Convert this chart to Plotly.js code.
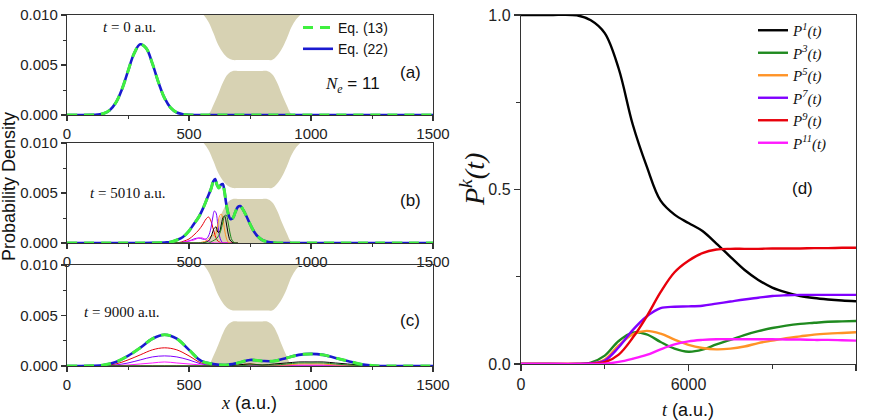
<!DOCTYPE html>
<html>
<head>
<meta charset="utf-8">
<script src="https://cdn.plot.ly/plotly-3.0.1.min.js"></script>
<style>
  html, body { margin: 0; padding: 0; background: #fff; }
  #chart { width: 875px; height: 420px; }
</style>
</head>
<body>
<div id="chart"></div>
<script>
// ---- barrier (channel walls), same in panels (a)-(c) ----
const wallX     = [520, 540, 560, 580, 600, 620, 640, 660, 680, 700, 720, 740, 760, 780, 800, 820, 840, 860, 880, 900, 920, 940, 960, 980];
const upperWall = [0.0106, 0.0104, 0.0100, 0.0093, 0.0082, 0.0070, 0.0062, 0.0057, 0.0055, 0.0055, 0.0055, 0.0055,
                   0.0055, 0.0055, 0.0055, 0.0055, 0.0055, 0.0059, 0.0066, 0.0076, 0.0088, 0.0096, 0.0101, 0.0106];
const lowerWall = [0, 0, 0, 0.0001, 0.0010, 0.0021, 0.0033, 0.0041, 0.0044, 0.0044, 0.0044, 0.0044,
                   0.0044, 0.0044, 0.0044, 0.0044, 0.0041, 0.0033, 0.0021, 0.0010, 0.0001, 0, 0, 0];
const wallCeil = 0.012;

// ---- panel (a): t = 0 a.u. ----
const xA    = [0, 50, 100, 125, 150, 175, 200, 225, 250, 275, 300, 325, 350, 375, 400, 425, 450, 475, 500, 550, 1500];
const densA = [0, 0, 0.00001, 0.00004, 0.00015, 0.00048, 0.00122, 0.00256, 0.00438, 0.00615, 0.00707, 0.00666,
               0.00514, 0.00325, 0.00168, 0.00072, 0.00025, 0.00007, 0.00001, 0, 0];

// ---- panel (b): t = 5010 a.u. ----
const xB    = [0, 300, 350, 400, 425, 450, 475, 500, 520, 540, 560, 575, 590, 600, 607, 615, 622, 630, 638, 645, 652,
               660, 670, 680, 690, 700, 710, 720, 735, 750, 765, 780, 800, 825, 850, 875, 900, 1500];
const densB = [0, 0, 0.00001, 0.00005, 0.0001, 0.0003, 0.0006, 0.0012, 0.0019, 0.0026, 0.0036, 0.0045, 0.0054, 0.0062,
               0.0064, 0.0058, 0.0055, 0.0058, 0.0059, 0.0052, 0.0040, 0.0030, 0.0024, 0.0025, 0.0031, 0.0036, 0.0037,
               0.0034, 0.0027, 0.0019, 0.0012, 0.0007, 0.0003, 0.0001, 0.00003, 0, 0, 0];
const gridB  = [440, 460, 480, 500, 520, 540, 555, 570, 580, 590, 597, 604, 611, 618, 625, 632, 639, 646, 653, 660, 668, 676, 685, 700];
const bK1  = [0, 0, 0, 0, 0, 0, 0, 0.0001, 0.0002, 0.0006, 0.0011, 0.0015, 0.0016, 0.0011, 0.0011, 0.0018, 0.0025, 0.0027, 0.0020, 0.0010, 0.0003, 0.0001, 0, 0];
const bK3  = [0, 0, 0, 0, 0, 0, 0, 0, 0, 0.0001, 0.0002, 0.0003, 0.0004, 0.0006, 0.0009, 0.0014, 0.0021, 0.0027, 0.0028, 0.0021, 0.0010, 0.0003, 0.00005, 0];
const bK5  = [0, 0, 0, 0, 0, 0, 0.0001, 0.0002, 0.0004, 0.0007, 0.0008, 0.0007, 0.0010, 0.0018, 0.0027, 0.0029, 0.0024, 0.0013, 0.0005, 0.0001, 0, 0, 0, 0];
const bK7  = [0, 0, 0.0001, 0.0002, 0.0004, 0.0005, 0.0004, 0.0004, 0.0007, 0.0015, 0.0025, 0.0032, 0.0030, 0.0018, 0.0007, 0.0002, 0, 0, 0, 0, 0, 0, 0, 0];
const bK9  = [0, 0.00005, 0.0002, 0.0004, 0.0008, 0.0013, 0.0018, 0.0024, 0.0026, 0.0022, 0.0016, 0.0010, 0.0005, 0.0002, 0.0001, 0, 0, 0, 0, 0, 0, 0, 0, 0];
const bK11 = [0, 0, 0.0001, 0.0002, 0.0003, 0.0005, 0.0005, 0.0003, 0.0002, 0.0001, 0.00005, 0, 0, 0, 0, 0, 0, 0, 0, 0, 0, 0, 0, 0];

// ---- panel (c): t = 9000 a.u. ----
const xC    = [0, 50, 100, 150, 200, 250, 300, 350, 400, 450, 500, 550, 600, 650, 700, 750, 800, 850, 900, 950, 1000,
               1050, 1100, 1150, 1200, 1250, 1300, 1350, 1500];
const densC = [0, 0, 0.00002, 0.0001, 0.0004, 0.0010, 0.0018, 0.0027, 0.0031, 0.0027, 0.0016, 0.0005, 0.0002, 0.0001,
               0.0003, 0.0006, 0.0005, 0.0005, 0.0008, 0.0011, 0.0012, 0.0011, 0.0008, 0.0005, 0.0002, 0.00005, 0, 0, 0];
const gridC = [100, 150, 200, 250, 300, 350, 400, 450, 500, 550, 600, 650, 700, 750, 800, 850, 900, 950, 1000, 1050, 1100, 1150, 1200, 1250, 1300];
const cK1  = [0, 0, 0, 0, 0, 0, 0, 0, 0, 0, 0, 0, 0.0001, 0.0002, 0.0001, 0.0002, 0.0003, 0.0004, 0.0004, 0.0004, 0.0003, 0.0002, 0.0001, 0, 0];
const cK3  = [0, 0, 0, 0, 0, 0, 0, 0, 0, 0, 0, 0, 0, 0.0001, 0.0001, 0.0001, 0.0002, 0.0003, 0.0003, 0.0003, 0.0002, 0.0001, 0.00005, 0, 0];
const cK5  = [0, 0, 0, 0, 0, 0, 0, 0, 0, 0, 0, 0, 0.0001, 0.0002, 0.0001, 0.0001, 0.0001, 0.0002, 0.0002, 0.0002, 0.0001, 0.0001, 0, 0, 0];
const cK7  = [0, 0, 0.0001, 0.0003, 0.0006, 0.0009, 0.0010, 0.0009, 0.0006, 0.0002, 0.00005, 0, 0, 0, 0, 0, 0, 0, 0, 0, 0, 0, 0, 0, 0];
const cK9  = [0, 0.00005, 0.0002, 0.0006, 0.0011, 0.0016, 0.0018, 0.0016, 0.0010, 0.0003, 0.0001, 0, 0, 0, 0, 0, 0, 0, 0, 0, 0, 0, 0, 0, 0];
const cK11 = [0, 0, 0.00005, 0.0001, 0.0002, 0.0003, 0.0004, 0.0003, 0.0002, 0.0001, 0, 0, 0, 0.0001, 0.0001, 0.0001, 0.0001, 0.0001, 0.0001, 0.0001, 0.0001, 0.00005, 0, 0, 0];

// ---- panel (d): channel probabilities vs time ----
const tD  = [0, 1000, 2000, 2500, 3000, 3500, 4000, 4500, 5000, 5500, 6000, 6500, 7000, 7500, 8000, 8500, 9000, 9500, 10000, 10500, 11000, 11500, 12000];
const P1  = [1.0, 1.0, 0.999, 0.985, 0.948, 0.846, 0.687, 0.567, 0.468, 0.428, 0.404, 0.381, 0.345, 0.307, 0.270, 0.241, 0.219, 0.205, 0.195, 0.189, 0.185, 0.182, 0.180];
const P3  = [0, 0, 0, 0.004, 0.024, 0.066, 0.090, 0.085, 0.063, 0.044, 0.035, 0.041, 0.056, 0.069, 0.083, 0.094, 0.103, 0.110, 0.115, 0.118, 0.121, 0.122, 0.123];
const P5  = [0, 0, 0, 0.001, 0.013, 0.053, 0.085, 0.095, 0.087, 0.070, 0.055, 0.046, 0.042, 0.044, 0.050, 0.060, 0.067, 0.074, 0.079, 0.084, 0.087, 0.089, 0.091];
const P7  = [0, 0, 0, 0.002, 0.010, 0.048, 0.097, 0.136, 0.160, 0.164, 0.165, 0.167, 0.173, 0.179, 0.185, 0.190, 0.195, 0.197, 0.198, 0.198, 0.198, 0.198, 0.198];
const P9  = [0, 0, 0, 0.001, 0.005, 0.027, 0.075, 0.136, 0.206, 0.263, 0.296, 0.318, 0.328, 0.330, 0.330, 0.330, 0.331, 0.331, 0.331, 0.332, 0.332, 0.333, 0.333];
const P11 = [0, 0, 0, 0, 0.001, 0.006, 0.015, 0.026, 0.042, 0.056, 0.065, 0.069, 0.071, 0.071, 0.071, 0.071, 0.071, 0.070, 0.070, 0.069, 0.069, 0.068, 0.067];

// ---- tick labels ----
const xTickVals = [0, 500, 1000, 1500];
const xTickText = ['0', '500', '1000', '1500'];
const yTickVals = [0, 0.005, 0.010];
const yTickText = ['0.000', '0.005', '0.010'];
const tTickVals = [0, 6000, 12000];
const tTickText = ['0', '6000', '12000'];
const pTickVals = [0, 0.5, 1.0];
const pTickText = ['0.0', '0.5', '1.0'];

// ---- styles ----
const C = { k1: '#000000', k3: '#1f8a1f', k5: '#ff9326', k7: '#8000ff', k9: '#e8000b', k11: '#ff1aff' };
const WALL = '#d7d2b3';
const BLUE = '#1a1ad0';
const LIME = '#3ff03f';
const SANS = 'Liberation Sans, Arial, sans-serif';
const SERIF = 'Liberation Serif, Times New Roman, serif';

const traces = [];
const panels = [['x', 'y'], ['x2', 'y2'], ['x3', 'y3']];

// channel walls in panels (a)-(c)
panels.forEach(([xa, ya]) => {
  traces.push({
    x: wallX, y: lowerWall, xaxis: xa, yaxis: ya, mode: 'lines',
    line: { width: 0, shape: 'spline', color: WALL }, fill: 'tozeroy', fillcolor: WALL,
    hoverinfo: 'skip', showlegend: false
  });
  traces.push({
    x: wallX.concat([wallX[wallX.length - 1], wallX[0]]),
    y: upperWall.concat([wallCeil, wallCeil]),
    xaxis: xa, yaxis: ya, mode: 'lines',
    line: { width: 0, shape: 'spline', color: WALL }, fill: 'toself', fillcolor: WALL,
    hoverinfo: 'skip', showlegend: false
  });
});

// thin per-channel densities
function thin(x, y, color, xa, ya) {
  traces.push({ x, y, xaxis: xa, yaxis: ya, mode: 'lines', line: { color, width: 1, shape: 'spline' },
    hoverinfo: 'skip', showlegend: false });
}
[[bK9, C.k9], [bK7, C.k7], [bK11, C.k11], [bK5, C.k5], [bK1, C.k1], [bK3, C.k3]]
  .forEach(([v, c]) => thin(gridB, v, c, 'x2', 'y2'));
[[cK9, C.k9], [cK7, C.k7], [cK11, C.k11], [cK5, C.k5], [cK1, C.k1], [cK3, C.k3]]
  .forEach(([v, c]) => thin(gridC, v, c, 'x3', 'y3'));

// total densities: Eq. (22) solid blue under Eq. (13) dashed lime
[[xA, densA, 'x', 'y', true], [xB, densB, 'x2', 'y2', false], [xC, densC, 'x3', 'y3', false]]
  .forEach(([x, y, xa, ya, leg]) => {
    traces.push({ x, y, xaxis: xa, yaxis: ya, mode: 'lines', name: 'Eq. (22)',
      line: { color: BLUE, width: 2.6, shape: 'spline' }, showlegend: leg, legendrank: 2 });
    traces.push({ x, y, xaxis: xa, yaxis: ya, mode: 'lines', name: 'Eq. (13)',
      line: { color: LIME, width: 3, dash: '10px,7px', shape: 'spline' }, showlegend: leg, legendrank: 1 });
  });

// panel (d)
[[P1, C.k1, '1'], [P3, C.k3, '3'], [P5, C.k5, '5'], [P7, C.k7, '7'], [P9, C.k9, '9'], [P11, C.k11, '11']]
  .forEach(([v, c, k], i) => {
    traces.push({ x: tD, y: v, xaxis: 'x4', yaxis: 'y4', mode: 'lines',
      name: '<i>P</i><sup><i>' + k + '</i></sup><i>(t)</i>',
      line: { color: c, width: 2.4, shape: 'spline' }, legend: 'legend2', legendrank: i + 1 });
  });

// axes
function axis(extra) {
  return Object.assign({
    showline: true, linecolor: '#333', linewidth: 1.2, mirror: true,
    ticks: 'outside', ticklen: 5, tickwidth: 1.2, tickcolor: '#333',
    showgrid: false, zeroline: false, fixedrange: true, tickmode: 'array',
    tickfont: { family: SANS, size: 15, color: '#222' }
  }, extra);
}
const W = 875, H = 420;
const dx = (a, b) => [a / W, b / W];
const dy = (top, bottom) => [1 - bottom / H, 1 - top / H];
const xMinor = { ticks: 'outside', ticklen: 3, tickwidth: 1, tickcolor: '#333', dtick: 250, tick0: 0 };
const yMinor = { ticks: 'outside', ticklen: 3, tickwidth: 1, tickcolor: '#333', dtick: 0.0025, tick0: 0 };

const layout = {
  width: W, height: H, margin: { l: 0, r: 0, t: 0, b: 0 },
  paper_bgcolor: '#ffffff', plot_bgcolor: '#ffffff', showlegend: true,
  xaxis:  axis({ domain: dx(67, 433), range: [0, 1500], anchor: 'y', tickvals: xTickVals, ticktext: xTickText, minor: xMinor }),
  yaxis:  axis({ domain: dy(15, 115), range: [0, 0.010], anchor: 'x', tickvals: yTickVals, ticktext: yTickText, minor: yMinor }),
  xaxis2: axis({ domain: dx(67, 433), range: [0, 1500], anchor: 'y2', tickvals: xTickVals, ticktext: xTickText, minor: xMinor }),
  yaxis2: axis({ domain: dy(143, 243), range: [0, 0.010], anchor: 'x2', tickvals: yTickVals, ticktext: yTickText, minor: yMinor }),
  xaxis3: axis({ domain: dx(67, 433), range: [0, 1500], anchor: 'y3', tickvals: xTickVals, ticktext: xTickText, minor: xMinor }),
  yaxis3: axis({ domain: dy(265, 366), range: [0, 0.010], anchor: 'x3', tickvals: yTickVals, ticktext: yTickText, minor: yMinor }),
  xaxis4: axis({ domain: dx(521, 856), range: [0, 12000], anchor: 'y4', tickvals: tTickVals, ticktext: tTickText, ticklen: 6,
    tickfont: { family: SANS, size: 16, color: '#222' },
    minor: { ticks: 'outside', ticklen: 4, tickwidth: 1, tickcolor: '#333', dtick: 3000, tick0: 0 } }),
  yaxis4: axis({ domain: dy(15, 364), range: [0, 1.0], anchor: 'x4', tickvals: pTickVals, ticktext: pTickText, ticklen: 6,
    tickfont: { family: SANS, size: 16, color: '#222' },
    minor: { ticks: 'outside', ticklen: 4, tickwidth: 1, tickcolor: '#333', dtick: 0.25, tick0: 0 } }),
  legend: { x: 298 / W, y: 1 - 12 / H, xanchor: 'left', yanchor: 'top', bgcolor: 'rgba(0,0,0,0)',
    font: { family: SANS, size: 14, color: '#111' }, traceorder: 'normal', borderwidth: 0 },
  legend2: { x: 753 / W, y: 1 - 14 / H, xanchor: 'left', yanchor: 'top', bgcolor: 'rgba(0,0,0,0)',
    font: { family: SERIF, size: 15, color: '#111' }, traceorder: 'normal', borderwidth: 0 },
  annotations: []
};

function note(text, xref, yref, x, y, size, family, extra) {
  layout.annotations.push(Object.assign({
    text, xref, yref, x, y, showarrow: false, xanchor: 'center', yanchor: 'middle',
    font: { family, size, color: '#111' }
  }, extra || {}));
}
note('<i>t</i> = 0 a.u.', 'x', 'y', 256, 0.0088, 15, SERIF);
note('(a)', 'x', 'y', 1408, 0.0043, 17, SANS);
note('<span style="font-family:Liberation Serif"><i>N<sub>e</sub></i></span> = 11', 'x', 'y', 1172, 0.0030, 17, SANS);
note('<i>t</i> = 5010 a.u.', 'x2', 'y2', 252, 0.0050, 15, SERIF);
note('(b)', 'x2', 'y2', 1408, 0.0043, 17, SANS);
note('<i>t</i> = 9000 a.u.', 'x3', 'y3', 227, 0.00535, 15, SERIF);
note('(c)', 'x3', 'y3', 1406, 0.00455, 17, SANS);
note('(d)', 'x4', 'y4', 10101, 0.504, 17, SANS);
note('Probability Density', 'paper', 'paper', 9 / W, 1 - 187 / H, 18, SANS, { textangle: -90 });
note('<span style="font-family:Liberation Serif"><i>x</i></span> (a.u.)', 'paper', 'paper', 249 / W, 1 - 403 / H, 18, SANS);
note('<span style="font-family:Liberation Serif"><i>t</i></span> (a.u.)', 'paper', 'paper', 688 / W, 1 - 410 / H, 18, SANS);
note('<i>P</i><sup><i>k</i></sup><i>(t)</i>', 'paper', 'paper', 472 / W, 1 - 180 / H, 28, SERIF, { textangle: -90 });

Plotly.newPlot('chart', traces, layout, { staticPlot: true, displayModeBar: false });
</script>
</body>
</html>
